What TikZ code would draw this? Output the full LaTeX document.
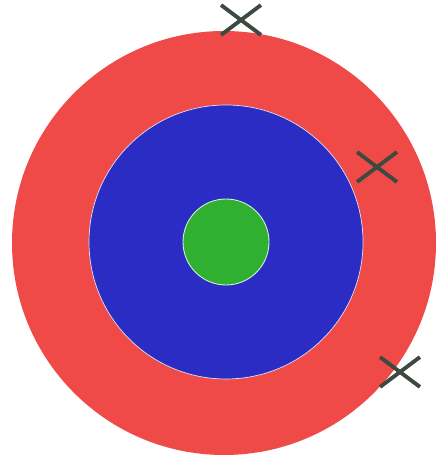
\documentclass[tikz,border=0pt]{standalone}
\usepackage{xcolor}
\usetikzlibrary{shapes.misc}
\definecolor{targetRed}{HTML}{F04A48}
\definecolor{targetBlue}{HTML}{2A2CC4}
\definecolor{targetGreen}{HTML}{30B030}
\definecolor{markGrey}{HTML}{3C4A40}

\begin{document}
\begin{tikzpicture}[
  ring/.style={circle, inner sep=0pt, outer sep=0pt},
  hitmark/.style={cross out, draw=markGrey, line width=2.2pt, minimum width=0.72cm, minimum height=0.52cm, inner sep=0pt}
]
\useasboundingbox (0,0) rectangle (8.74,9.16);
\def\outerr{4.24}
\node[ring, fill=targetRed, minimum size=2*\outerr cm] (outer) at (4.48,4.30) {};
\node[ring, fill=targetBlue, draw=white!85!targetBlue, line width=0.4pt, minimum size=5.48cm] (middle) at (4.52,4.32) {};
\node[ring, fill=targetGreen, draw=white!80!targetGreen, line width=0.5pt, minimum size=1.72cm] (bull) at (middle.center) {};

\node[hitmark] (hitA) at (4.82,8.76) {};
\node[hitmark] (hitB) at (7.54,5.82) {};
\node[hitmark] (hitC) at (8.00,1.72) {};
\end{tikzpicture}
\end{document}
